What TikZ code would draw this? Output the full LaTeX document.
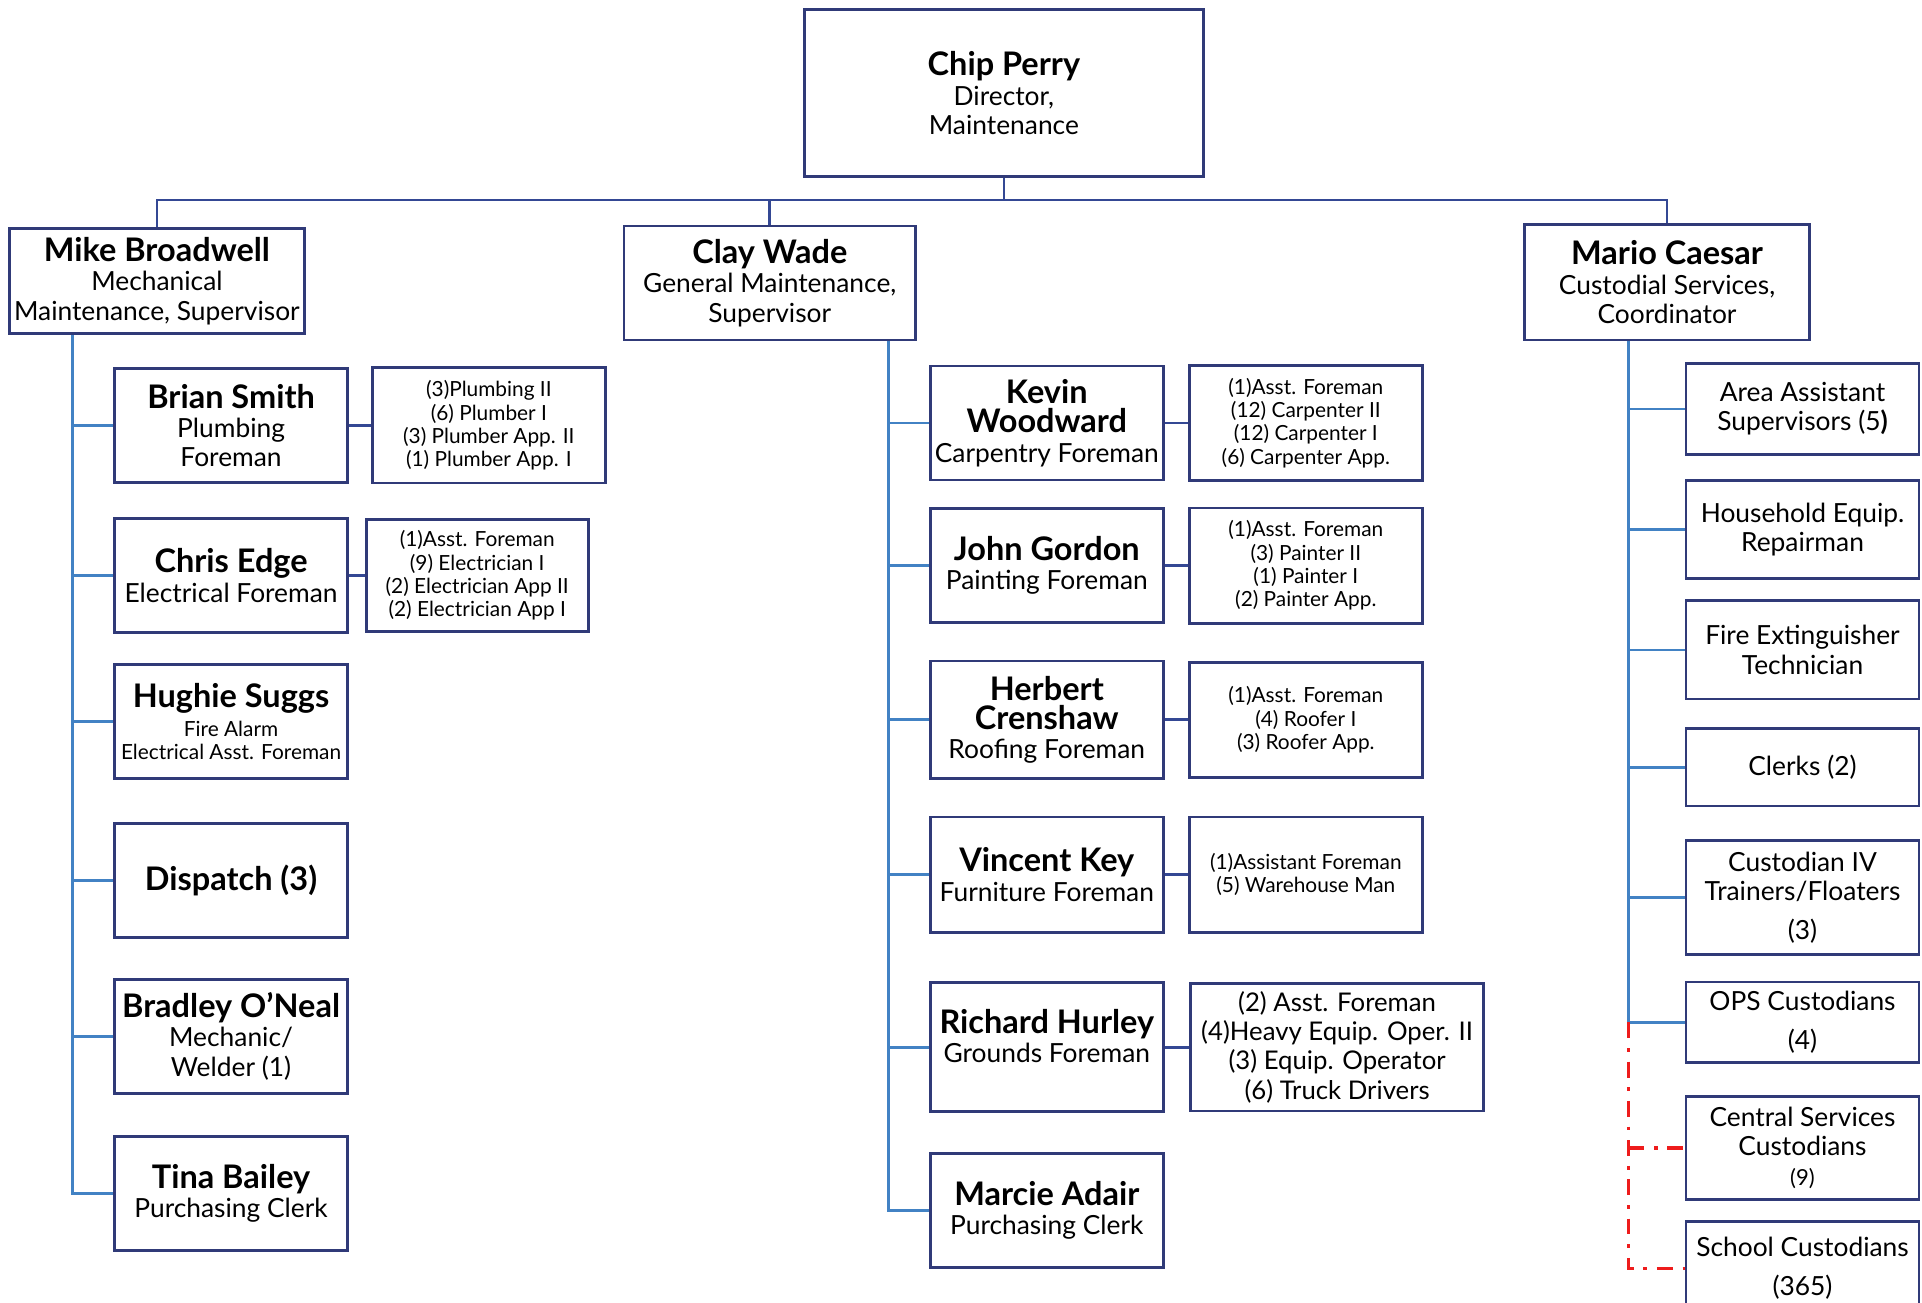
\documentclass[tikz,border=0pt]{standalone}
\usepackage{fontspec}
\setmainfont{Lato}
\usetikzlibrary{positioning}
\definecolor{boxline}{RGB}{48,58,120}
\definecolor{bossline}{RGB}{52,72,148}
\definecolor{twigline}{RGB}{66,130,196}
\definecolor{dotline}{RGB}{238,28,28}
\newcommand{\who}[1]{{\fontsize{26.5}{28}\selectfont\bfseries #1}}

\begin{document}
\begin{tikzpicture}[x=1pt, y=-1pt,
    box/.style ={
        draw=boxline,
        line width=2.3pt,
        fill=white,
        align=center,
        inner sep=2pt,
        minimum width=190pt,
        minimum height=93pt,
        font=\fontsize{21.5}{24}\selectfont
    },
    sub/.style ={box, minimum height=94pt, font=\fontsize{17}{19}\selectfont},
    boss/.style ={draw=bossline, line width=2.2pt},
    twig/.style ={draw=twigline, line width=2.3pt},
    dashdot/.style ={draw=dotline, line width=2.8pt, dash pattern=on 13pt off 8pt on 3pt off 8pt}
    ]
    \useasboundingbox (0,0) rectangle (1568,1063);

    \node[box, minimum width=326pt, minimum height=136pt] (chip) at (819,76) {\who{Chip Perry}\\Director,\\Maintenance};
    \node[box, minimum width=241pt, minimum height=86pt, below=40pt of chip, xshift=-691pt] (mike) {\who{Mike Broadwell}\\Mechanical\\Maintenance, Supervisor};
    \node[box, minimum width=238pt, minimum height=93pt, below=38pt of chip, xshift=-191pt] (clay) {\who{Clay Wade}\\General Maintenance,\\Supervisor};
    \node[box, minimum width=233pt, minimum height=94pt, below=37pt of chip, xshift=541pt] (mario) {\who{Mario Caesar}\\Custodial Services,\\Coordinator};

    \node[box, below right=26pt and 86pt of mike.south west] (brian) {\who{Brian Smith}\\Plumbing\\Foreman};
    \node[box, below=27pt of brian] (chris) {\who{Chris Edge}\\Electrical Foreman};
    \node[box, font=\fontsize{17}{19}\selectfont, below=24pt of chris] (hughie) {\who{Hughie Suggs}\\[4pt]Fire Alarm\\Electrical Asst. Foreman};
    \node[box, below=34pt of hughie] (dispatch) {\who{Dispatch (3)}};
    \node[box, below=32pt of dispatch] (bradley) {\who{Bradley O'Neal}\\Mechanic/\\Welder (1)};
    \node[box, below=33pt of bradley] (tina) {\who{Tina Bailey}\\Purchasing Clerk};
    \node[sub, right=18pt of brian] (briancrew) {(3)Plumbing II\\(6) Plumber I\\(3) Plumber App. II\\(1) Plumber App. I};
    \node[sub, minimum width=181pt, minimum height=91pt, right=13pt of chris] (chriscrew) {(1)Asst. Foreman\\(9) Electrician I\\(2) Electrician App II\\(2) Electrician App I};

    \node[box, below right=19pt and 250pt of clay.south west] (kevin) {\who{Kevin}\\\who{Woodward}\\Carpentry Foreman};
    \node[box, below=21pt of kevin] (john) {\who{John Gordon}\\Painting Foreman};
    \node[box, minimum height=96pt, below=29pt of john] (herbert) {\who{Herbert}\\\who{Crenshaw}\\Roofing Foreman};
    \node[box, minimum height=94pt, below=29pt of herbert] (vincent) {\who{Vincent Key}\\Furniture Foreman};
    \node[box, minimum height=105pt, below=39pt of vincent] (richard) {\who{Richard Hurley}\\Grounds Foreman\\[-6pt]\mbox{}};
    \node[box, below=32pt of richard] (marcie) {\who{Marcie Adair}\\Purchasing Clerk};
    \node[sub, right=19pt of kevin] (kevincrew) {(1)Asst. Foreman\\(12) Carpenter II\\(12) Carpenter I\\(6) Carpenter App.};
    \node[sub, right=19pt of john] (johncrew) {(1)Asst. Foreman\\(3) Painter II\\(1) Painter I\\(2) Painter App.};
    \node[sub, right=19pt of herbert] (herbertcrew) {(1)Asst. Foreman\\(4) Roofer I\\(3) Roofer App.};
    \node[sub, right=19pt of vincent] (vincentcrew) {(1)Assistant Foreman\\(5) Warehouse Man};
    \node[sub, font=\fontsize{21}{24}\selectfont, minimum width=239pt, minimum height=104pt, right=20pt of richard] (richardcrew) {(2) Asst. Foreman\\(4)Heavy Equip. Oper. II\\(3) Equip. Operator\\(6) Truck Drivers};

    \node[box, minimum height=74pt, below right=17pt and 132pt of mario.south west] (area) {Area Assistant\\Supervisors (5{\bfseries)}};
    \node[box, minimum height=80pt, below=19pt of area] (household) {Household Equip.\\Repairman};
    \node[box, minimum height=80pt, below=16pt of household] (fire) {Fire Extinguisher\\Technician};
    \node[box, minimum height=63pt, below=22pt of fire] (clerks) {Clerks (2)};
    \node[box, minimum height=93pt, below=26pt of clerks] (trainers) {Custodian IV\\Trainers/Floaters\\[8pt](3)};
    \node[box, minimum height=66pt, below=20pt of trainers] (ops) {OPS Custodians\\[8pt](4)};
    \node[box, minimum height=84pt, below=25pt of ops] (central) {Central Services\\Custodians\\{\fontsize{18}{20}\selectfont (9)}};
    \node[box, minimum height=76pt, below=16pt of central] (school) {School Custodians\\[8pt](365)};

    \coordinate (bus) at ([yshift=-18pt]chip.south);
    \draw[boss] (chip.south) -- (bus);
    \foreach \head in {mike, clay, mario}
        \draw[boss] (bus) -| (\head.north);

    \coordinate (mtrunk) at ([xshift=53pt]mike.south west);
    \coordinate (ctrunk) at ([xshift=217pt]clay.south west);
    \coordinate (rtrunk) at ([xshift=86pt]mario.south west);
    \draw[twig] (mtrunk) |- (tina.west);
    \draw[twig] (ctrunk) |- (marcie.west);
    \draw[twig] (rtrunk) |- (ops.west);
    \foreach \trunk/\kid in {mtrunk/brian, mtrunk/chris, mtrunk/hughie, mtrunk/dispatch, mtrunk/bradley,
        ctrunk/kevin, ctrunk/john, ctrunk/herbert, ctrunk/vincent, ctrunk/richard,
        rtrunk/area, rtrunk/household, rtrunk/fire, rtrunk/clerks, rtrunk/trainers}
        \draw[twig] (\trunk |- \kid.west) -- (\kid.west);
    \draw[dashdot] (rtrunk |- ops.west) |- (school.west);
    \draw[dashdot] (rtrunk |- central.west) -- (central.west);

    \foreach \src/\dst in {brian/briancrew, chris/chriscrew, kevin/kevincrew, john/johncrew,
        herbert/herbertcrew, vincent/vincentcrew, richard/richardcrew}
        \draw[boss] (\src) -- (\dst);
\end{tikzpicture}
\end{document}
